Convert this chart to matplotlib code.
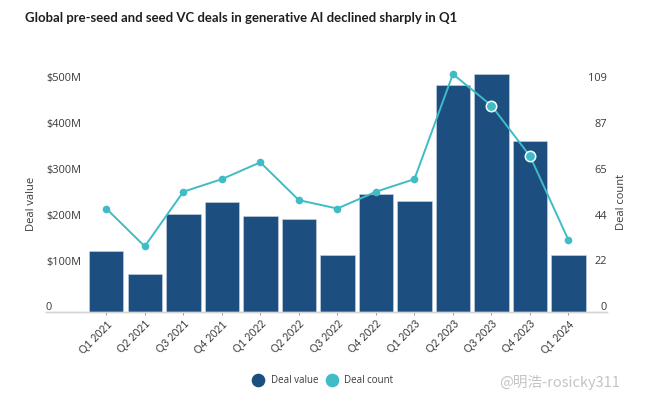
import matplotlib.pyplot as plt
from matplotlib.transforms import ScaledTranslation

plt.rcParams['font.family'] = ['Open Sans', 'DejaVu Sans']

quarters = ['Q1 2021', 'Q2 2021', 'Q3 2021', 'Q4 2021', 'Q1 2022', 'Q2 2022', 'Q3 2022',
            'Q4 2022', 'Q1 2023', 'Q2 2023', 'Q3 2023', 'Q4 2023', 'Q1 2024']
deal_value = [133, 81, 213, 240, 209, 202, 124, 257, 241, 494, 519, 372, 124]
deal_count = [49, 31, 57, 63, 71, 53, 49, 57, 63, 113, 98, 74, 34]
value_ticks = [0, 100, 200, 300, 400, 500]
value_labels = ['0', '$100M', '$200M', '$300M', '$400M', '$500M']
count_ticks = [0, 21.8, 43.6, 65.4, 87.2, 109]
count_labels = ['0', '22', '44', '65', '87', '109']

BAR = '#1c4f80'
TEAL = '#3fbcc5'
TEXT = '#3a3a3a'
W, H = 653, 400

fig = plt.figure(figsize=(W / 100, H / 100), dpi=100, facecolor='white')
# axes box in pixels: left 46, right 607, baseline 311.5, top 60
ax = fig.add_axes([46 / W, 1 - 311.5 / H, 561 / W, 251.5 / H])
x = list(range(len(quarters)))

ax.bar(x, deal_value, width=0.895, color=BAR, edgecolor='#c9d6e2', linewidth=0.4)
ax.set_xlim(-1.564, 13.0)
ymax = 251.5 / 45.8 * 100
ax.set_ylim(0, ymax)
ax.set_yticks(value_ticks)
ax.set_yticklabels(value_labels, ha='left', va='bottom', fontsize=7.9, color=TEXT)
ax.tick_params(axis='y', length=0, pad=0)
ax.set_xticks(x)
ax.set_xticklabels(quarters, rotation=45, ha='right', rotation_mode='anchor', fontsize=7.6, color=TEXT,
                   family=['Lato', 'DejaVu Sans'])
ax.tick_params(axis='x', length=2, width=0.6, color='#888888', pad=3)

ax2 = ax.twinx()
ax2.set_ylim(0, ymax * 109 / 500)
ax2.plot(x, deal_count, color=TEAL, linewidth=1.4, marker='o', markersize=5.5,
         markeredgecolor='none', zorder=3)
ax2.plot(x, deal_count, linestyle='none', marker='o', markersize=7.5, markevery=[10, 11],
         markerfacecolor=TEAL, markeredgecolor='white', markeredgewidth=1.1, zorder=4)
ax2.set_yticks(count_ticks)
ax2.set_yticklabels(count_labels, ha='right', va='bottom', fontsize=7.9, color=TEXT)
ax2.tick_params(axis='y', length=0, pad=0)

# tick labels sit a little lower than va='bottom' puts them
shift = ScaledTranslation(0, -1.8 / 100, fig.dpi_scale_trans)
for lab in ax.get_yticklabels() + ax2.get_yticklabels():
    lab.set_transform(lab.get_transform() + shift)

for a in (ax, ax2):
    for side in ('top', 'left', 'right'):
        a.spines[side].set_visible(False)
    a.spines['bottom'].set_color('#d5d5d5')
    a.spines['bottom'].set_linewidth(1)

fig.text(32 / W, 1 - 204 / H, 'Deal value', rotation=90, ha='center', va='center', fontsize=8.0, color=TEXT)
fig.text(622 / W, 1 - 202 / H, 'Deal count', rotation=90, ha='center', va='center', fontsize=8.0, color=TEXT)
fig.text(25 / W, 1 - 17.5 / H, 'Global pre-seed and seed VC deals in generative AI declined sharply in Q1',
         ha='left', va='center', fontsize=9.45, fontweight='bold', color='#1f1f1f', family=['Lato', 'DejaVu Sans'])

handles = [plt.Line2D([], [], linestyle='none', marker='o', markersize=8.8, color=BAR, label='Deal value'),
           plt.Line2D([], [], linestyle='none', marker='o', markersize=8.8, color=TEAL, label='Deal count')]
fig.legend(handles=handles, loc='center', bbox_to_anchor=(321 / W, 1 - 380.5 / H), ncol=2, frameon=False,
           fontsize=7.0, labelcolor=TEXT, handletextpad=0.3, columnspacing=0.35)

# watermark
fig.text(499 / W, 1 - 383 / H, '@明浩-rosicky311', ha='left', va='center', fontsize=10.5, color='#c4c4c4',
         family=['Noto Sans CJK SC', 'DejaVu Sans'])

fig.savefig('out.png', dpi=100)
